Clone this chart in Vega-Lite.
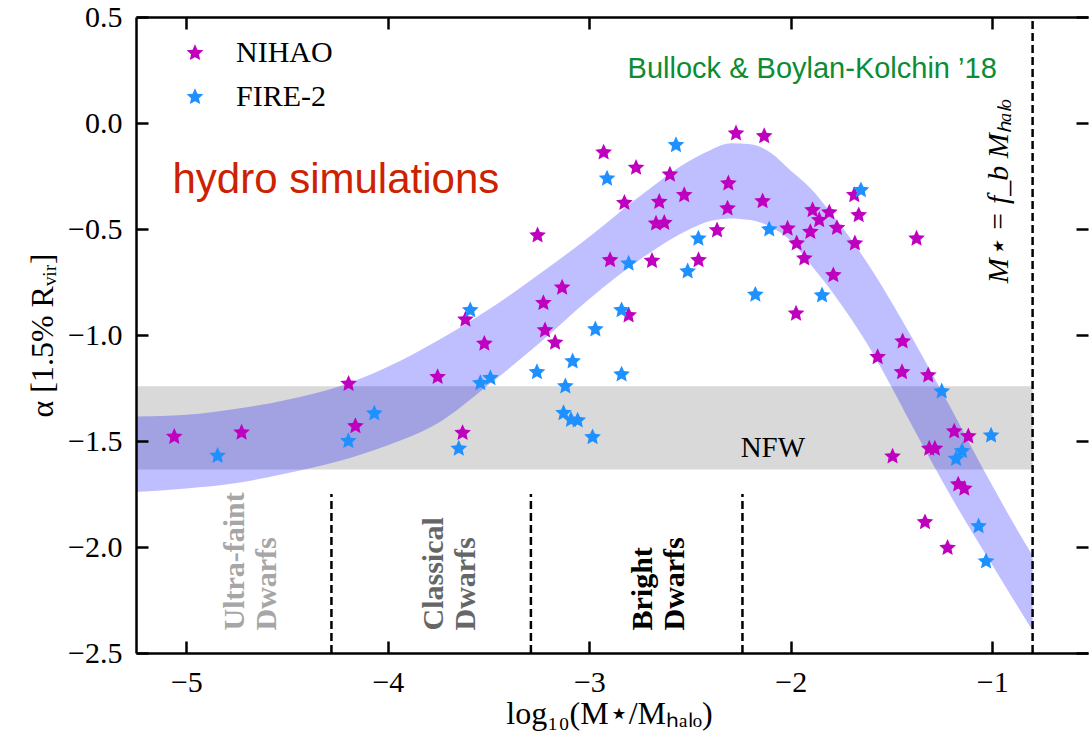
{
  "$schema": "https://vega.github.io/schema/vega-lite/v6.json",
  "width": 952,
  "height": 636,
  "autosize": {"type": "none"},
  "padding": {"left": 136, "top": 17, "right": 1, "bottom": 83},
  "background": "white",
  "config": {
    "view": {"stroke": null},
    "font": "Liberation Serif",
    "axis": {
      "grid": false,
      "domainColor": "black",
      "domainWidth": 2.5,
      "tickColor": "black",
      "tickWidth": 2.5,
      "tickSize": -12,
      "labelFont": "Liberation Serif",
      "labelFontSize": 30,
      "labelColor": "black",
      "titleFont": "Liberation Serif",
      "titleFontSize": 32,
      "titleFontWeight": "normal",
      "titleColor": "black"
    }
  },
  "datasets": {
    "stars": [
      {"x": -5.06, "a": -1.48, "sim": "NIHAO"},
      {"x": -4.726, "a": -1.46, "sim": "NIHAO"},
      {"x": -4.195, "a": -1.23, "sim": "NIHAO"},
      {"x": -4.161, "a": -1.43, "sim": "NIHAO"},
      {"x": -3.753, "a": -1.198, "sim": "NIHAO"},
      {"x": -3.629, "a": -1.462, "sim": "NIHAO"},
      {"x": -3.615, "a": -0.927, "sim": "NIHAO"},
      {"x": -3.521, "a": -1.041, "sim": "NIHAO"},
      {"x": -3.257, "a": -0.53, "sim": "NIHAO"},
      {"x": -3.228, "a": -0.849, "sim": "NIHAO"},
      {"x": -3.22, "a": -0.978, "sim": "NIHAO"},
      {"x": -3.17, "a": -1.036, "sim": "NIHAO"},
      {"x": -3.135, "a": -0.776, "sim": "NIHAO"},
      {"x": -2.929, "a": -0.139, "sim": "NIHAO"},
      {"x": -2.897, "a": -0.647, "sim": "NIHAO"},
      {"x": -2.826, "a": -0.377, "sim": "NIHAO"},
      {"x": -2.805, "a": -0.907, "sim": "NIHAO"},
      {"x": -2.768, "a": -0.211, "sim": "NIHAO"},
      {"x": -2.689, "a": -0.65, "sim": "NIHAO"},
      {"x": -2.669, "a": -0.474, "sim": "NIHAO"},
      {"x": -2.628, "a": -0.471, "sim": "NIHAO"},
      {"x": -2.653, "a": -0.372, "sim": "NIHAO"},
      {"x": -2.6, "a": -0.243, "sim": "NIHAO"},
      {"x": -2.529, "a": -0.34, "sim": "NIHAO"},
      {"x": -2.458, "a": -0.647, "sim": "NIHAO"},
      {"x": -2.366, "a": -0.506, "sim": "NIHAO"},
      {"x": -2.314, "a": -0.403, "sim": "NIHAO"},
      {"x": -2.31, "a": -0.285, "sim": "NIHAO"},
      {"x": -2.272, "a": -0.049, "sim": "NIHAO"},
      {"x": -2.14, "a": -0.369, "sim": "NIHAO"},
      {"x": -2.132, "a": -0.062, "sim": "NIHAO"},
      {"x": -2.016, "a": -0.498, "sim": "NIHAO"},
      {"x": -1.974, "a": -0.899, "sim": "NIHAO"},
      {"x": -1.971, "a": -0.568, "sim": "NIHAO"},
      {"x": -1.933, "a": -0.639, "sim": "NIHAO"},
      {"x": -1.903, "a": -0.514, "sim": "NIHAO"},
      {"x": -1.892, "a": -0.411, "sim": "NIHAO"},
      {"x": -1.859, "a": -0.458, "sim": "NIHAO"},
      {"x": -1.809, "a": -0.422, "sim": "NIHAO"},
      {"x": -1.789, "a": -0.718, "sim": "NIHAO"},
      {"x": -1.771, "a": -0.495, "sim": "NIHAO"},
      {"x": -1.685, "a": -0.34, "sim": "NIHAO"},
      {"x": -1.682, "a": -0.568, "sim": "NIHAO"},
      {"x": -1.663, "a": -0.435, "sim": "NIHAO"},
      {"x": -1.569, "a": -1.104, "sim": "NIHAO"},
      {"x": -1.495, "a": -1.573, "sim": "NIHAO"},
      {"x": -1.448, "a": -1.175, "sim": "NIHAO"},
      {"x": -1.445, "a": -1.03, "sim": "NIHAO"},
      {"x": -1.376, "a": -0.545, "sim": "NIHAO"},
      {"x": -1.334, "a": -1.883, "sim": "NIHAO"},
      {"x": -1.318, "a": -1.19, "sim": "NIHAO"},
      {"x": -1.313, "a": -1.536, "sim": "NIHAO"},
      {"x": -1.285, "a": -1.536, "sim": "NIHAO"},
      {"x": -1.222, "a": -2.004, "sim": "NIHAO"},
      {"x": -1.189, "a": -1.455, "sim": "NIHAO"},
      {"x": -1.169, "a": -1.705, "sim": "NIHAO"},
      {"x": -1.139, "a": -1.725, "sim": "NIHAO"},
      {"x": -1.119, "a": -1.478, "sim": "NIHAO"},
      {"x": -4.845, "a": -1.57, "sim": "FIRE-2"},
      {"x": -4.196, "a": -1.5, "sim": "FIRE-2"},
      {"x": -4.067, "a": -1.37, "sim": "FIRE-2"},
      {"x": -3.648, "a": -1.536, "sim": "FIRE-2"},
      {"x": -3.591, "a": -0.883, "sim": "FIRE-2"},
      {"x": -3.541, "a": -1.227, "sim": "FIRE-2"},
      {"x": -3.491, "a": -1.203, "sim": "FIRE-2"},
      {"x": -3.26, "a": -1.175, "sim": "FIRE-2"},
      {"x": -3.128, "a": -1.368, "sim": "FIRE-2"},
      {"x": -3.119, "a": -1.242, "sim": "FIRE-2"},
      {"x": -3.091, "a": -1.4, "sim": "FIRE-2"},
      {"x": -3.058, "a": -1.403, "sim": "FIRE-2"},
      {"x": -3.083, "a": -1.124, "sim": "FIRE-2"},
      {"x": -2.984, "a": -1.482, "sim": "FIRE-2"},
      {"x": -2.97, "a": -0.973, "sim": "FIRE-2"},
      {"x": -2.912, "a": -0.262, "sim": "FIRE-2"},
      {"x": -2.84, "a": -0.883, "sim": "FIRE-2"},
      {"x": -2.84, "a": -1.186, "sim": "FIRE-2"},
      {"x": -2.805, "a": -0.663, "sim": "FIRE-2"},
      {"x": -2.57, "a": -0.104, "sim": "FIRE-2"},
      {"x": -2.512, "a": -0.7, "sim": "FIRE-2"},
      {"x": -2.459, "a": -0.545, "sim": "FIRE-2"},
      {"x": -2.176, "a": -0.81, "sim": "FIRE-2"},
      {"x": -2.107, "a": -0.502, "sim": "FIRE-2"},
      {"x": -1.845, "a": -0.813, "sim": "FIRE-2"},
      {"x": -1.652, "a": -0.317, "sim": "FIRE-2"},
      {"x": -1.251, "a": -1.266, "sim": "FIRE-2"},
      {"x": -1.18, "a": -1.584, "sim": "FIRE-2"},
      {"x": -1.15, "a": -1.548, "sim": "FIRE-2"},
      {"x": -1.006, "a": -1.474, "sim": "FIRE-2"},
      {"x": -1.068, "a": -1.902, "sim": "FIRE-2"},
      {"x": -1.031, "a": -2.068, "sim": "FIRE-2"}
    ],
    "band": [
      {"x": -5.25, "lo": -1.741, "hi": -1.384},
      {"x": -5.0, "lo": -1.724, "hi": -1.376},
      {"x": -4.75, "lo": -1.698, "hi": -1.348},
      {"x": -4.5, "lo": -1.652, "hi": -1.305},
      {"x": -4.25, "lo": -1.597, "hi": -1.245},
      {"x": -4.0, "lo": -1.52, "hi": -1.15},
      {"x": -3.75, "lo": -1.415, "hi": -1.025},
      {"x": -3.5, "lo": -1.235, "hi": -0.88},
      {"x": -3.25, "lo": -1.04, "hi": -0.714},
      {"x": -3.0, "lo": -0.83, "hi": -0.537},
      {"x": -2.75, "lo": -0.645, "hi": -0.346},
      {"x": -2.5, "lo": -0.50, "hi": -0.177},
      {"x": -2.4, "lo": -0.462, "hi": -0.128},
      {"x": -2.3, "lo": -0.45, "hi": -0.096},
      {"x": -2.2, "lo": -0.458, "hi": -0.1},
      {"x": -2.1, "lo": -0.49, "hi": -0.14},
      {"x": -2.0, "lo": -0.555, "hi": -0.225},
      {"x": -1.9, "lo": -0.67, "hi": -0.31},
      {"x": -1.8, "lo": -0.79, "hi": -0.425},
      {"x": -1.7, "lo": -0.925, "hi": -0.55},
      {"x": -1.6, "lo": -1.075, "hi": -0.69},
      {"x": -1.5, "lo": -1.245, "hi": -0.845},
      {"x": -1.4, "lo": -1.425, "hi": -1.01},
      {"x": -1.3, "lo": -1.6, "hi": -1.18},
      {"x": -1.2, "lo": -1.77, "hi": -1.355},
      {"x": -1.1, "lo": -1.93, "hi": -1.535},
      {"x": -1.0, "lo": -2.085, "hi": -1.71},
      {"x": -0.9, "lo": -2.24, "hi": -1.88},
      {"x": -0.8, "lo": -2.394, "hi": -2.04}
    ],
    "nfw": [{"x1": -5.25, "x2": -0.8, "lo": -1.634, "hi": -1.242}],
    "lines": [
      {"x": -4.28, "y1": -2.5, "y2": -1.75},
      {"x": -3.29, "y1": -2.5, "y2": -1.75},
      {"x": -2.24, "y1": -2.5, "y2": -1.75},
      {"x": -0.8, "y1": -2.5, "y2": 0.5}
    ]
  },
  "resolve": {"axis": {"x": "independent", "y": "independent"}},
  "layer": [
    {
      "data": {"name": "nfw"},
      "mark": {"type": "rect", "color": "#d9d9d9"},
      "encoding": {
        "x": {"field": "x1", "type": "quantitative", "scale": {"domain": [-5.25, -0.525], "nice": false, "zero": false}, "axis": null},
        "x2": {"field": "x2"},
        "y": {"field": "lo", "type": "quantitative", "scale": {"domain": [-2.5, 0.5], "nice": false, "zero": false}, "axis": null},
        "y2": {"field": "hi"}
      }
    },
    {
      "data": {"name": "band"},
      "mark": {"type": "area", "color": "#0000ff", "opacity": 0.25, "interpolate": "monotone", "clip": true},
      "encoding": {
        "x": {"field": "x", "type": "quantitative", "scale": {"domain": [-5.25, -0.525], "nice": false, "zero": false}, "axis": null},
        "y": {"field": "lo", "type": "quantitative", "scale": {"domain": [-2.5, 0.5], "nice": false, "zero": false}, "axis": null},
        "y2": {"field": "hi"}
      }
    },
    {
      "data": {"name": "lines"},
      "mark": {"type": "rule", "color": "black", "strokeWidth": 2.5, "strokeDash": [8, 4]},
      "encoding": {
        "x": {"field": "x", "type": "quantitative", "scale": {"domain": [-5.25, -0.525], "nice": false, "zero": false},
          "axis": {"orient": "top", "labels": false, "title": null, "values": [-5, -4, -3, -2, -1], "domain": true, "zindex": 2}},
        "y": {"field": "y1", "type": "quantitative", "scale": {"domain": [-2.5, 0.5], "nice": false, "zero": false},
          "axis": {"orient": "right", "labels": false, "title": null, "domain": false, "values": [0.5, 0, -0.5, -1, -1.5, -2, -2.5], "zindex": 2}},
        "y2": {"field": "y2"}
      }
    },
    {
      "data": {"values": [{"x": -4.757, "y": -2.394, "label": "Ultra-faint\nDwarfs"}]},
      "mark": {"type": "text", "angle": 270, "align": "left", "baseline": "middle", "font": "Liberation Serif", "fontWeight": "bold", "fontSize": 30, "lineHeight": 32, "lineBreak": "\n", "color": "#a6a6a6"},
      "encoding": {
        "x": {"field": "x", "type": "quantitative", "axis": null},
        "y": {"field": "y", "type": "quantitative", "axis": null},
        "text": {"field": "label"}
      }
    },
    {
      "data": {"values": [{"x": -3.769, "y": -2.394, "label": "Classical\nDwarfs"}]},
      "mark": {"type": "text", "angle": 270, "align": "left", "baseline": "middle", "font": "Liberation Serif", "fontWeight": "bold", "fontSize": 30, "lineHeight": 32, "lineBreak": "\n", "color": "#666666"},
      "encoding": {
        "x": {"field": "x", "type": "quantitative", "axis": null},
        "y": {"field": "y", "type": "quantitative", "axis": null},
        "text": {"field": "label"}
      }
    },
    {
      "data": {"values": [{"x": -2.732, "y": -2.394, "label": "Bright\nDwarfs"}]},
      "mark": {"type": "text", "angle": 270, "align": "left", "baseline": "middle", "font": "Liberation Serif", "fontWeight": "bold", "fontSize": 30, "lineHeight": 32, "lineBreak": "\n", "color": "#000000"},
      "encoding": {
        "x": {"field": "x", "type": "quantitative", "axis": null},
        "y": {"field": "y", "type": "quantitative", "axis": null},
        "text": {"field": "label"}
      }
    },
    {
      "data": {"values": [{"x": -5.069, "y": -0.331, "t": "hydro simulations"}]},
      "mark": {"type": "text", "align": "left", "baseline": "alphabetic", "font": "Liberation Sans", "fontSize": 42, "color": "#cc2200"},
      "encoding": {
        "x": {"field": "x", "type": "quantitative", "axis": null},
        "y": {"field": "y", "type": "quantitative", "axis": null},
        "text": {"field": "t"}
      }
    },
    {
      "data": {"values": [{"x": -2.81, "y": 0.21, "t": "Bullock & Boylan-Kolchin ’18"}]},
      "mark": {"type": "text", "align": "left", "baseline": "alphabetic", "font": "Liberation Sans", "fontSize": 29, "color": "#0c8c33"},
      "encoding": {
        "x": {"field": "x", "type": "quantitative", "axis": null},
        "y": {"field": "y", "type": "quantitative", "axis": null},
        "text": {"field": "t"}
      }
    },
    {
      "data": {"values": [{"x": -2.089, "y": -1.576, "t": "NFW"}]},
      "mark": {"type": "text", "align": "center", "baseline": "alphabetic", "font": "Liberation Serif", "fontSize": 29, "color": "black"},
      "encoding": {
        "x": {"field": "x", "type": "quantitative", "axis": null},
        "y": {"field": "y", "type": "quantitative", "axis": null},
        "text": {"field": "t"}
      }
    },
    {
      "data": {"values": [{"x": -0.965, "y": -0.756, "t": "M⋆ = f_b Mₕₐₗₒ"}]},
      "mark": {"type": "text", "angle": 270, "align": "left", "baseline": "middle", "font": "Liberation Serif", "fontStyle": "italic", "fontSize": 30, "color": "black"},
      "encoding": {
        "x": {"field": "x", "type": "quantitative", "axis": null},
        "y": {"field": "y", "type": "quantitative", "axis": null},
        "text": {"field": "t"}
      }
    },
    {
      "data": {"name": "stars"},
      "mark": {"type": "point", "filled": true, "opacity": 1, "fillOpacity": 1, "size": 310, "strokeWidth": 0,
        "shape": "M0,-1L0.2763,-0.3802L0.951,-0.309L0.447,0.1452L0.588,0.809L0,0.47L-0.588,0.809L-0.447,0.1452L-0.951,-0.309L-0.2763,-0.3802Z"},
      "encoding": {
        "x": {"field": "x", "type": "quantitative", "scale": {"domain": [-5.25, -0.525], "nice": false, "zero": false},
          "axis": {"orient": "bottom", "values": [-5, -4, -3, -2, -1], "format": "d", "labelFont": "Liberation Serif", "labelFontSize": 30, "labelPadding": 26, "title": "log₁₀(M⋆/Mₕₐₗₒ)", "titleFont": "Liberation Serif", "titleFontSize": 32, "titleX": 473, "titleY": 70, "titleBaseline": "alphabetic", "titleAlign": "center", "zindex": 2}},
        "y": {"field": "a", "type": "quantitative", "scale": {"domain": [-2.5, 0.5], "nice": false, "zero": false},
          "axis": {"orient": "left", "values": [0.5, 0, -0.5, -1, -1.5, -2, -2.5], "format": ".1f", "labelFont": "Liberation Serif", "labelFontSize": 30, "labelPadding": 26, "title": "α [1.5% Rᵥᵢᵣ]", "titleFont": "Liberation Serif", "titleFontSize": 32, "titleX": -94, "titleY": 318, "titleAngle": 270, "titleBaseline": "middle", "titleAlign": "center", "zindex": 2}},
        "color": {"field": "sim", "type": "nominal", "scale": {"domain": ["NIHAO", "FIRE-2"], "range": ["#bf00bf", "#1e90ff"]},
          "legend": {"orient": "none", "legendX": 44, "legendY": 21, "title": null, "padding": 0, "rowPadding": 14, "labelOffset": 26, "labelFontSize": 30, "labelFont": "Liberation Serif", "labelColor": "black", "symbolSize": 310, "symbolStrokeWidth": 0, "symbolOpacity": 1,
            "symbolType": "M0,-1L0.2763,-0.3802L0.951,-0.309L0.447,0.1452L0.588,0.809L0,0.47L-0.588,0.809L-0.447,0.1452L-0.951,-0.309L-0.2763,-0.3802Z"}}
      }
    }
  ]
}
